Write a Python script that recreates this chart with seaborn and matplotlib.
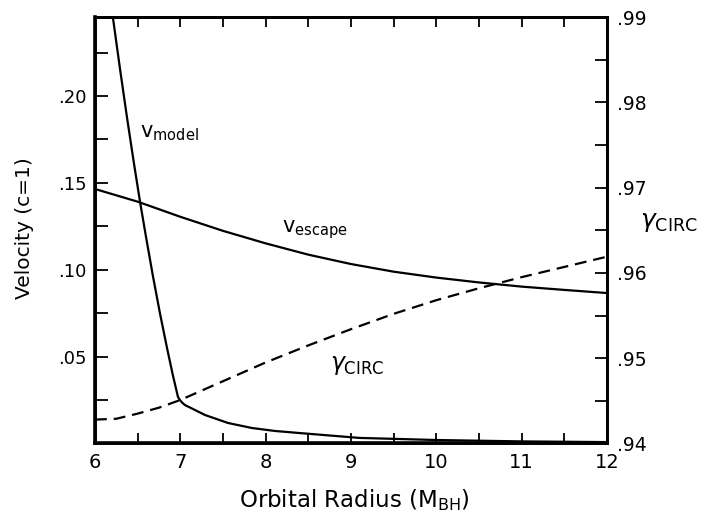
import matplotlib
matplotlib.use('Agg')
import matplotlib.pyplot as plt
import seaborn as sns
from matplotlib.ticker import MultipleLocator, FixedLocator, FixedFormatter

# ---- data ----
model_r = [6.21, 6.293, 6.375, 6.457, 6.527, 6.598, 6.68, 6.762, 6.844, 6.914, 6.973,
           6.996, 7.02, 7.055, 7.15, 7.289, 7.559, 7.84, 8.11, 8.4, 9.1, 10.0, 11.0, 12.0]
model_v = [0.2452, 0.2157, 0.1877, 0.1611, 0.1394, 0.1189, 0.0961, 0.0748, 0.0550,
           0.0390, 0.0267, 0.0250, 0.0236, 0.0221, 0.0198, 0.0164, 0.0118, 0.0089,
           0.0072, 0.0060, 0.0032, 0.0020, 0.0012, 0.0008]

escape_r = [6.0, 6.5, 7.0, 7.5, 8.0, 8.5, 9.0, 9.5, 10.0, 10.5, 11.0, 11.5, 12.0]
escape_v = [0.1465, 0.1392, 0.1305, 0.1224, 0.1152, 0.1087, 0.1033, 0.0989, 0.0955,
            0.0927, 0.0903, 0.0884, 0.0866]

gamma_r = [6.0, 6.25, 6.5, 6.75, 7.0, 7.25, 7.5, 8.0, 8.5, 9.0, 9.5, 10.0, 10.5,
           11.0, 11.5, 12.0]
gamma_val = [0.9428, 0.9429, 0.9435, 0.9442, 0.9451, 0.9462, 0.9473, 0.9495, 0.9515,
             0.9534, 0.9552, 0.9568, 0.9582, 0.9595, 0.9607, 0.9619]

x_ticks = [6, 7, 8, 9, 10, 11, 12]
x_tick_labels = ['6', '7', '8', '9', '10', '11', '12']
v_ticks = [0.05, 0.10, 0.15, 0.20]
v_tick_labels = ['.05', '.10', '.15', '.20']
g_ticks = [0.94, 0.95, 0.96, 0.97, 0.98, 0.99]
g_tick_labels = ['.94', '.95', '.96', '.97', '.98', '.99']

# ---- style ----
sns.set_style('ticks')
plt.rcParams['font.family'] = ['DejaVu Sans']
plt.rcParams['lines.scale_dashes'] = False
plt.rcParams['mathtext.default'] = 'regular'
for key in ('text.color', 'axes.labelcolor', 'xtick.color', 'ytick.color',
            'axes.edgecolor'):
    plt.rcParams[key] = 'black'

fig = plt.figure(figsize=(7.11, 5.17), dpi=100)
ax = fig.add_axes([0.1336, 0.1422, 0.7201, 0.8249])
ax2 = ax.twinx()

sns.lineplot(x=model_r, y=model_v, ax=ax, color='black', lw=1.6)
sns.lineplot(x=escape_r, y=escape_v, ax=ax, color='black', lw=1.6)
sns.lineplot(x=gamma_r, y=gamma_val, ax=ax2, color='black', lw=1.6,
             linestyle=(0, (8.5, 5)))

ax.set_xlim(6, 12)
ax.set_ylim(0, 0.2455)
ax2.set_ylim(0.94, 0.99)

ax.xaxis.set_major_locator(FixedLocator(x_ticks))
ax.xaxis.set_major_formatter(FixedFormatter(x_tick_labels))
ax.xaxis.set_minor_locator(MultipleLocator(0.5))
ax.yaxis.set_major_locator(FixedLocator(v_ticks))
ax.yaxis.set_major_formatter(FixedFormatter(v_tick_labels))
ax.yaxis.set_minor_locator(MultipleLocator(0.025))
ax2.yaxis.set_major_locator(FixedLocator(g_ticks))
ax2.yaxis.set_major_formatter(FixedFormatter(g_tick_labels))
ax2.yaxis.set_minor_locator(MultipleLocator(0.005))

ax.tick_params(axis='x', which='both', direction='in', top=True, bottom=True,
               length=7, width=1.3, labelsize=14, pad=7)
ax.tick_params(axis='y', which='both', direction='in', left=True, right=False,
               length=9, width=1.3, labelsize=13, pad=6)
ax2.tick_params(axis='y', which='both', direction='in', right=True, left=False,
                length=9, width=1.3, labelsize=13.5, pad=7)

for a in (ax, ax2):
    for s in a.spines.values():
        s.set_linewidth(2.0)
        s.set_color('black')
ax.spines['left'].set_linewidth(2.6)
ax.spines['bottom'].set_linewidth(2.6)

ax.set_xlabel(r'Orbital Radius (M$_{BH}$)', fontsize=16.5)
ax.xaxis.set_label_coords(0.507, -0.102)
ax.set_ylabel('Velocity (c=1)', fontsize=14.5)
ax.yaxis.set_label_coords(-0.119, 0.505)
ax2.set_ylabel('')

ax.text(6.53, 0.1785, r'$v_{model}$', fontsize=15, ha='left', va='center')
ax.text(8.19, 0.1233, r'$v_{escape}$', fontsize=15, ha='left', va='center')
ax.text(8.754, 0.0451, r'$\mathit{\gamma}_{CIRC}$', fontsize=17, ha='left', va='center')
ax2.text(1.064, 0.519, r'$\mathit{\gamma}_{CIRC}$', transform=ax2.transAxes,
         fontsize=18, ha='left', va='center')

fig.savefig('out.png', dpi=100)
